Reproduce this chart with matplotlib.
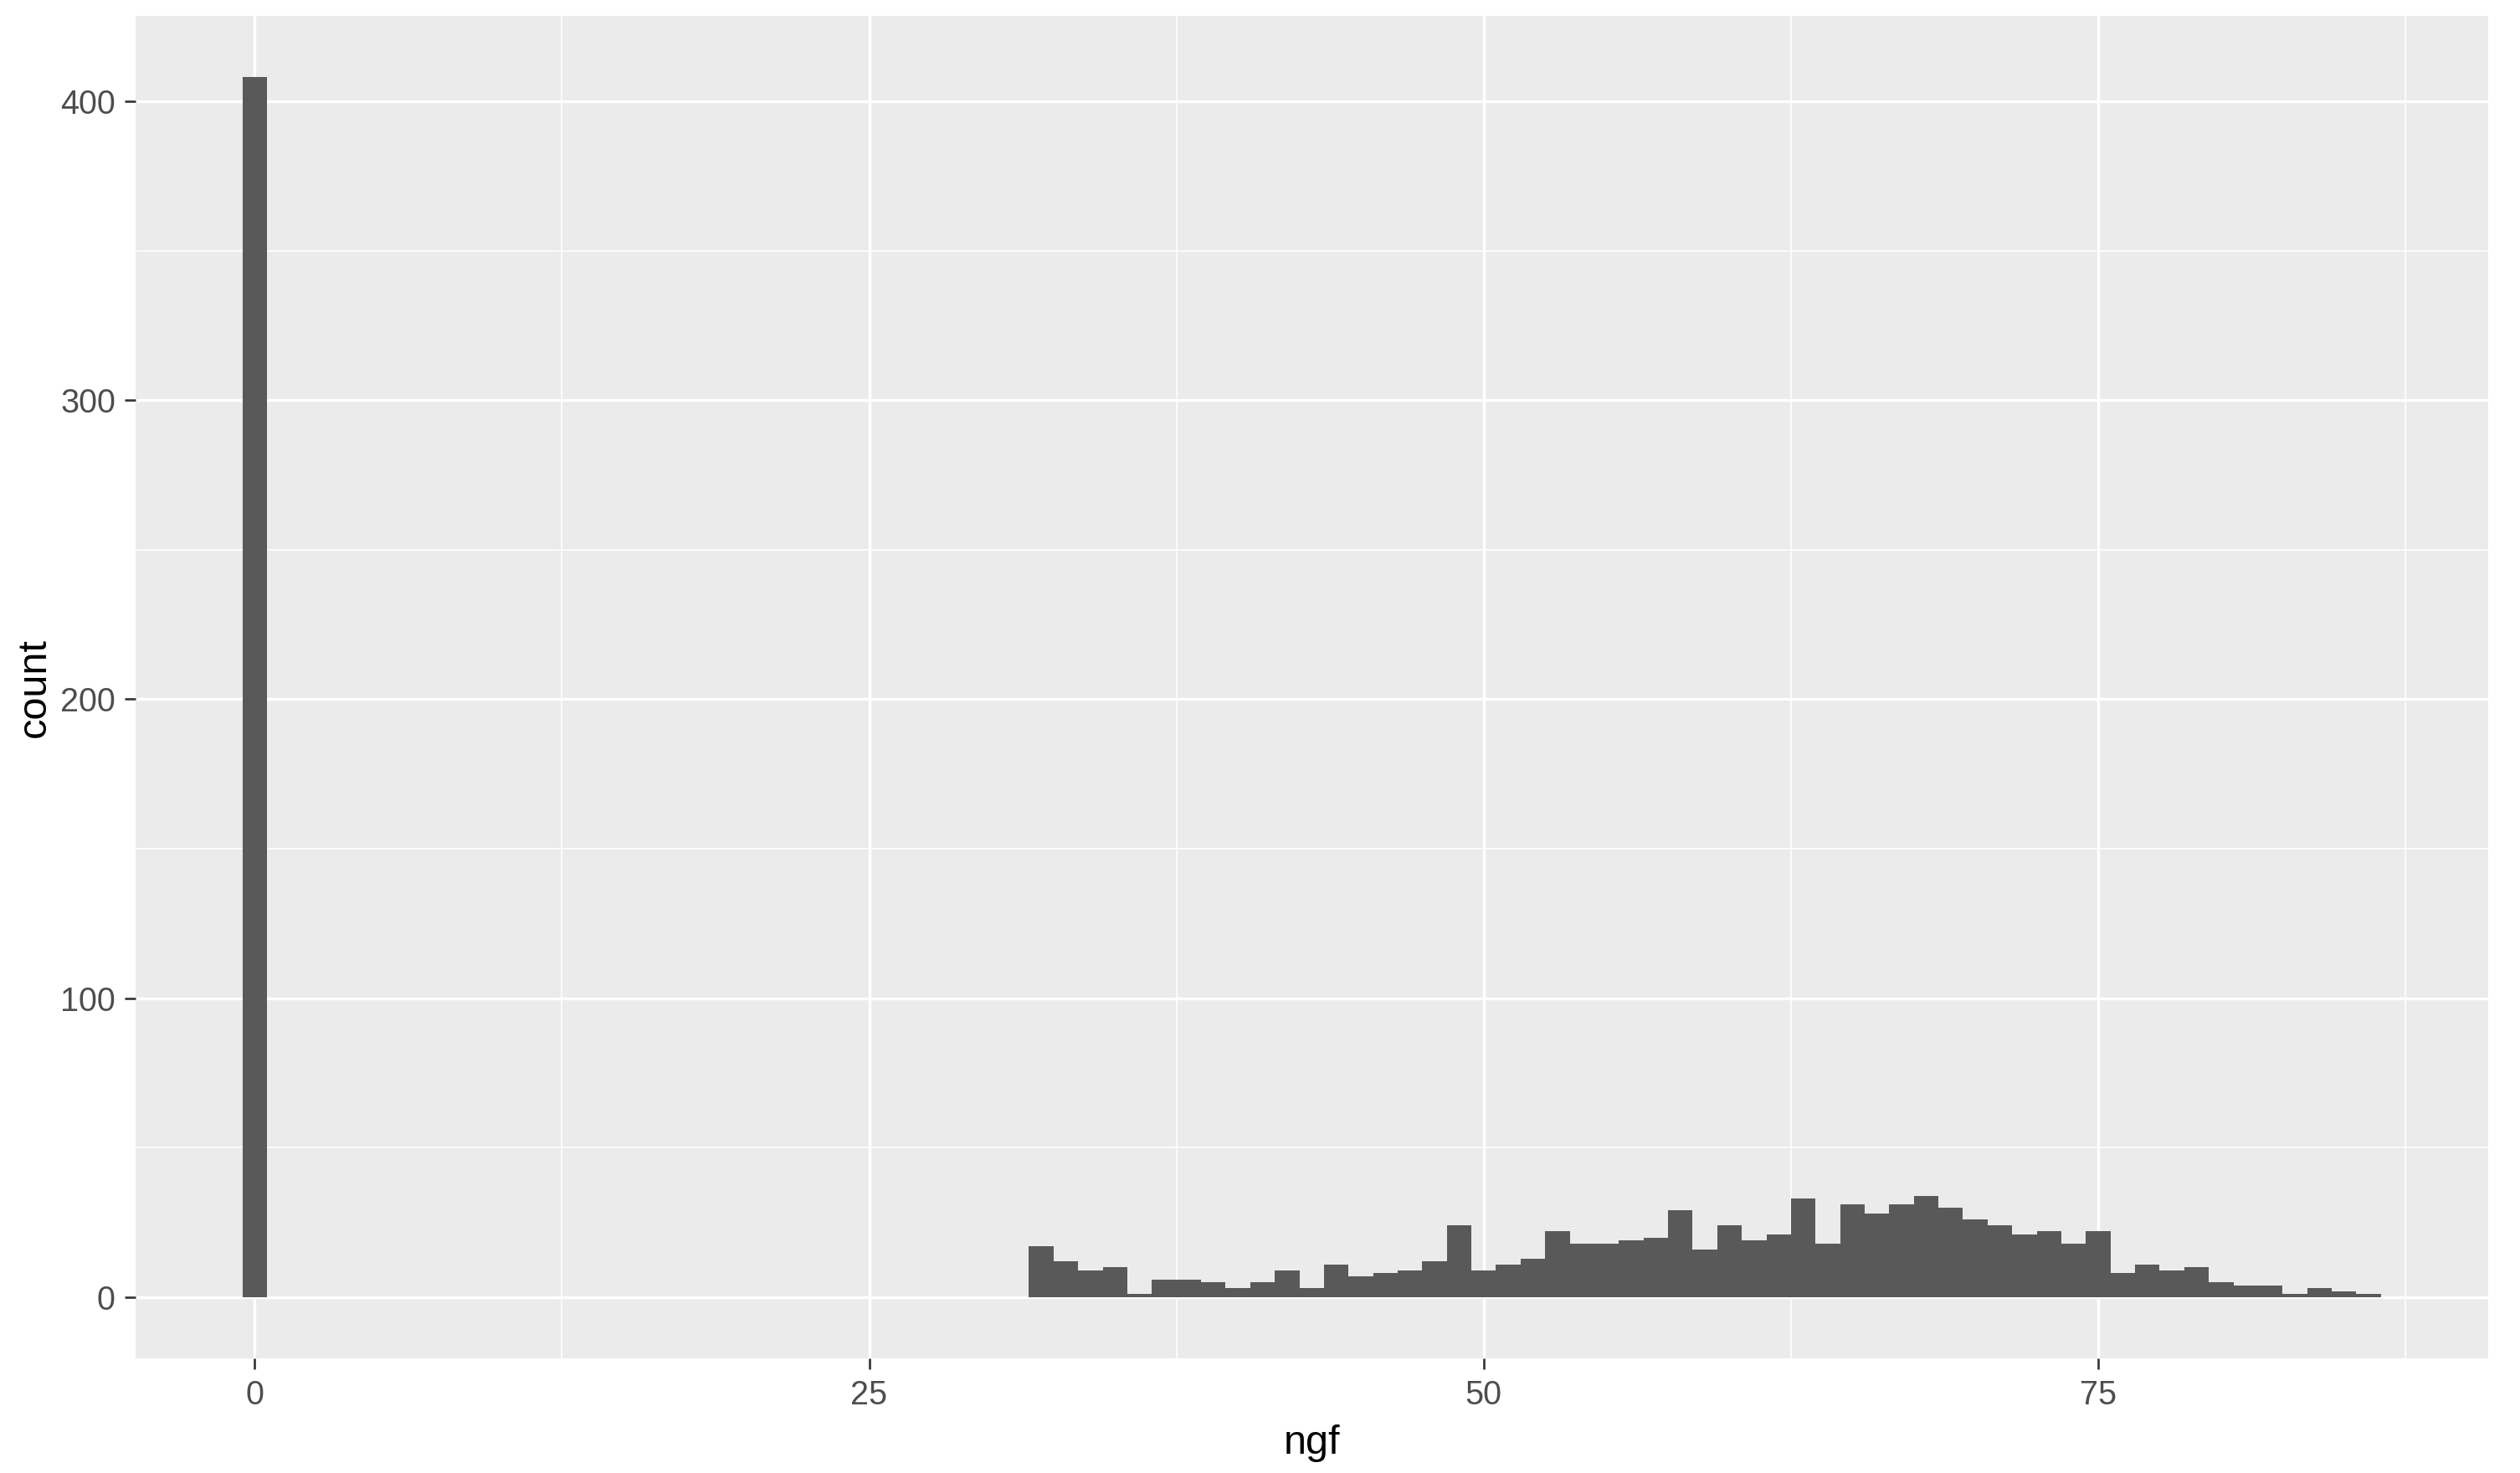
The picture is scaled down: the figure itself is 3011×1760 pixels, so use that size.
import matplotlib
matplotlib.use("Agg")
import matplotlib.pyplot as plt
from matplotlib.ticker import FixedLocator

# ---- data (histogram, binwidth 1, bins centred on integers) ----
bin_centers = [0] + list(range(32, 87))
counts = [408,
          17, 12, 9, 10, 1, 6, 6, 5, 3, 5,
          9, 3, 11, 7, 8, 9, 12, 24, 9, 11,
          13, 22, 18, 18, 19, 20, 29, 16, 24, 19,
          21, 33, 18, 31, 28, 31, 34, 30, 26, 24,
          21, 22, 18, 22, 8, 11, 9, 10, 5, 4,
          4, 1, 3, 2, 1]
x_ticks = [0, 25, 50, 75]
y_ticks = [0, 100, 200, 300, 400]
x_label = "ngf"
y_label = "count"

plt.rcParams['font.family'] = ['Liberation Sans', 'DejaVu Sans']

W, H = 3011, 1760
fig = plt.figure(figsize=(W / 100, H / 100), dpi=100)
left_px, right_px = 161.9, 2972.5
top_px, bottom_px = 19.5, 1622.9
ax = fig.add_axes([left_px / W, 1 - bottom_px / H,
                   (right_px - left_px) / W, (bottom_px - top_px) / H])

ax.set_facecolor('#EBEBEB')
ax.bar(bin_centers, counts, width=1.0, color='#595959', linewidth=0, zorder=2)

# limits with ggplot-like 5% expansion
xmin, xmax = -0.5, 86.5
ymin, ymax = 0, max(counts)
dx = (xmax - xmin) * 0.05
dy = (ymax - ymin) * 0.05
ax.set_xlim(xmin - dx, xmax + dx)
ax.set_ylim(ymin - dy, ymax + dy)

ax.set_xticks(x_ticks)
ax.set_xticklabels([str(t) for t in x_ticks])
ax.set_yticks(y_ticks)
ax.set_yticklabels([str(t) for t in y_ticks])
ax.xaxis.set_minor_locator(FixedLocator([12.5, 37.5, 62.5, 87.5]))
ax.yaxis.set_minor_locator(FixedLocator([50, 150, 250, 350]))

ax.grid(which='major', color='white', linewidth=2.4, zorder=1)
ax.grid(which='minor', color='white', linewidth=1.2, zorder=1)
ax.set_axisbelow(True)

for s in ax.spines.values():
    s.set_visible(False)

ax.tick_params(which='major', length=9.4, width=1.9, color='#333333',
               labelsize=28.5, labelcolor='#4D4D4D')
ax.tick_params(axis='x', which='major', pad=9)
ax.tick_params(axis='y', which='major', pad=7.9)
ax.tick_params(which='minor', length=0)

ax.set_xlabel(x_label, fontsize=35, color='black')
ax.xaxis.set_label_coords(0.5, -0.0711)
ax.xaxis.label.set_va('baseline')
ax.set_ylabel(y_label, fontsize=35, color='black')
ax.yaxis.set_label_coords(-0.0428, 0.5)
ax.yaxis.label.set_va('center')

fig.savefig('out.png', dpi=100, facecolor='white')
